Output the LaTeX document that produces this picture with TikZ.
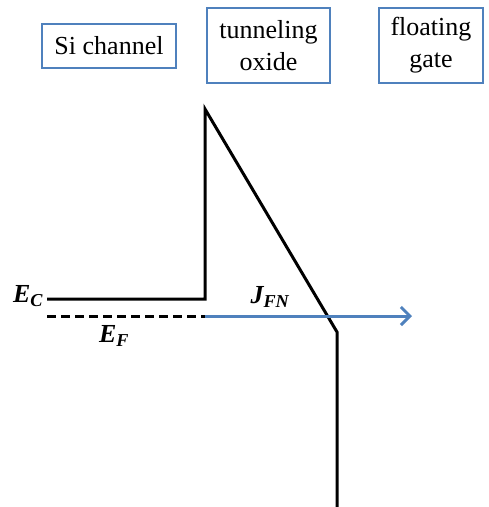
\documentclass[tikz,border=0pt]{standalone}
\usepackage{fontspec}
\setmainfont{Liberation Serif}
\usetikzlibrary{arrows.meta}
\definecolor{boxblue}{RGB}{79,129,189}
\begin{document}
\begin{tikzpicture}[x=1pt,y=-1pt,
  lbox/.style={draw=boxblue,line width=2pt,inner sep=0pt,align=center,font=\fontsize{26}{32}\selectfont},
  band/.style={line width=3pt,black,line join=miter},
  lvl/.style={font=\fontsize{26}{30}\selectfont\bfseries\itshape}]
\useasboundingbox (0,0) rectangle (489,507);
\node[lbox,minimum width=134pt,minimum height=44pt] (si) at (109,46) {Si channel};
\node[lbox,minimum width=123pt,minimum height=75pt] (ox) at (268.5,45.5) {tunneling\\oxide};
\node[lbox,minimum width=104pt,minimum height=75pt] (fg) at (431,45.5) {floating\\gate};
\coordinate (ecl) at (47,299);
\coordinate (ecr) at (205,299);
\coordinate (top) at (205,109);
\coordinate (knee) at (337,332);
\coordinate (bot) at (337,507);
\coordinate (efl) at (47,316);
\coordinate (efr) at (205,316);
\coordinate (jend) at (412,316);
\draw[band] (ecl) -- (ecr) -- (top) -- (knee) -- (bot);
\draw[line width=3pt,dash pattern=on 9pt off 5pt] (efl) -- (efr);
\draw[line width=3pt,boxblue,-{Straight Barb[length=9pt,width=18pt,line width=3pt]}] (efr) -- (jend);
\node[lvl] (ec) at (28,296) {E\textsubscript{C}};
\node[lvl] (ef) at (114,336) {E\textsubscript{F}};
\node[lvl] (jfn) at (270,297) {J\textsubscript{FN}};
\end{tikzpicture}
\end{document}
